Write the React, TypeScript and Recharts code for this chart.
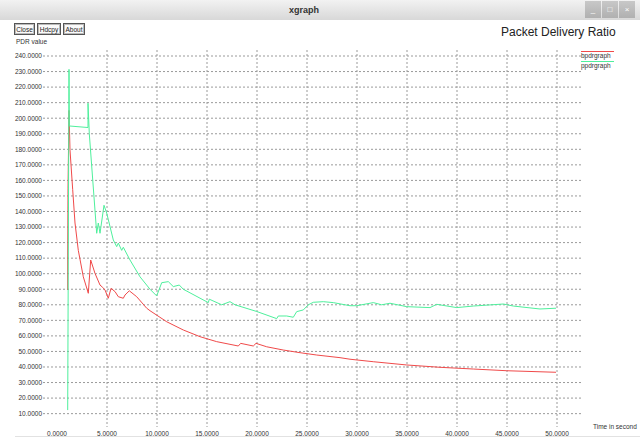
import { LineChart, Line, XAxis, YAxis, CartesianGrid } from "recharts";

// time (s) / PDR readings
const bpdrTime = [
  1.07, 1.07, 1.1, 1.2, 1.3, 1.57, 1.8, 2.13, 2.63, 3.13, 3.37, 3.8, 4.3, 4.57,
  4.8, 5.13, 5.4, 5.8, 6.13, 6.63, 6.8, 7.23, 7.97, 8.97, 9.3, 10.97, 12.63,
  14.3, 15.97, 18.13, 18.37, 19.63, 19.9, 20.97, 22.63, 24.3, 25.97, 28.3,
  29.3, 31.63, 34.97, 38.3, 41.63, 44.97, 49.9,
];
const bpdrValue = [
  89.5, 112, 155, 205, 179.5, 154, 132.6, 115, 98, 87.4, 108.8, 100.2, 92.7,
  91.2, 89.5, 84.2, 90.6, 88.5, 85.2, 84.2, 86.3, 89, 85.2, 77.8, 76.2, 69.1,
  63.8, 59.5, 56.3, 53.5, 55.2, 53.5, 55.2, 53, 50.9, 49.2, 47.7, 46, 45, 43.4,
  41.3, 39.8, 38.7, 37.6, 36.6,
];

const ppdrTime = [
  1.07, 1.2, 1.23, 3.1, 3.1, 3.23, 3.97, 4.13, 4.3, 4.7, 4.97, 5.63, 5.97,
  6.13, 6.47, 6.63, 7.3, 8.3, 9.3, 9.97, 10.47, 11.13, 11.63, 12.23, 12.63,
  15.13, 15.23, 16.47, 17.3, 17.8, 19.97, 21.97, 22.13, 22.97, 23.63, 23.97,
  24.63, 25.13, 25.63, 26.63, 27.63, 29.3, 29.97, 31.63, 32.47, 33.3, 34.97,
  37.3, 37.97, 39.97, 41.63, 44.63, 45.63, 48.3, 49.9,
];
const ppdrValue = [
  12.3, 231.4, 195, 194, 209.6, 190, 126, 132.6, 126, 144, 139, 121.7, 117.4,
  119.7, 115, 117, 108.8, 98, 90, 85.7, 94.2, 94.9, 91.7, 92.7, 90, 81.4, 83.6,
  80, 82, 80, 75.7, 71.1, 72.8, 72.8, 72, 75.6, 76.7, 80, 81.6, 82, 81.4, 79.4,
  79.4, 81.4, 80, 81, 78.8, 78.2, 80.3, 78.2, 79.2, 80.5, 79.2, 77.3, 77.8,
];

const xTicks = [0, 5, 10, 15, 20, 25, 30, 35, 40, 45, 50];
const xGrid = [5, 10, 15, 20, 25, 30, 35, 40, 45, 50];
const yTicks = [
  10, 20, 30, 40, 50, 60, 70, 80, 90, 100, 110, 120, 130, 140, 150, 160, 170,
  180, 190, 200, 210, 220, 230, 240,
];

const bpdrData = bpdrTime.map((t, i) => ({ t, v: bpdrValue[i] }));
const ppdrData = ppdrTime.map((t, i) => ({ t, v: ppdrValue[i] }));

const FONT = "'Liberation Sans', Arial, sans-serif";
const RED = "#f04a4a";
const GREEN = "#4ef09c";

function XTick({ x, y, payload }: any) {
  return (
    <text x={x} y={y + 8.5} textAnchor="middle" fontSize={6.5} fill="#333" fontFamily={FONT}>
      {Number(payload.value).toFixed(4)}
    </text>
  );
}

function YTick({ x, y, payload }: any) {
  return (
    <text x={x} y={y + 2.3} textAnchor="end" fontSize={6.5} fill="#333" fontFamily={FONT}>
      {Number(payload.value).toFixed(4)}
    </text>
  );
}

function Button({ left, width, label }: { left: number; width: number; label: string }) {
  return (
    <div
      style={{
        position: "absolute",
        left,
        top: 23,
        width,
        height: 12,
        border: "1px solid #555",
        boxShadow: "inset 0 0 0 1px #bbb",
        background: "#fafafa",
        fontSize: 6.5,
        lineHeight: "12px",
        textAlign: "center",
        color: "#222",
        boxSizing: "border-box",
      }}
    >
      {label}
    </div>
  );
}

export default function App() {
  return (
    <div
      style={{
        position: "fixed",
        left: 0,
        top: 0,
        width: 640,
        height: 438,
        background: "#fff",
        overflow: "hidden",
        fontFamily: FONT,
      }}
    >
      {/* window title bar */}
      <div
        style={{
          position: "absolute",
          left: 0,
          top: 0,
          width: 640,
          height: 20,
          background: "linear-gradient(#f2f2f2, #d8d8d8)",
        }}
      />
      <div
        style={{
          position: "absolute",
          left: 274,
          top: 5,
          width: 60,
          textAlign: "center",
          fontSize: 9,
          fontWeight: "bold",
          color: "#333",
        }}
      >
        xgraph
      </div>
      {["_", "\u25A1", "\u00D7"].map((g, i) => (
        <div
          key={g}
          style={{
            position: "absolute",
            left: 585 + i * 17,
            top: 1,
            width: 16,
            height: 17,
            background: "linear-gradient(#c8c8c8, #b0b0b0)",
            color: "#fff",
            fontSize: 8,
            lineHeight: "17px",
            textAlign: "center",
          }}
        >
          {g}
        </div>
      ))}

      <Button left={14} width={21} label="Close" />
      <Button left={37} width={24} label="Hdcpy" />
      <Button left={63} width={22} label="About" />

      <div style={{ position: "absolute", left: 16, top: 38, fontSize: 6.5, color: "#333" }}>
        PDR value
      </div>
      <div
        style={{ position: "absolute", left: 501, top: 25, fontSize: 12, color: "#222", whiteSpace: "nowrap" }}
      >
        Packet Delivery Ratio
      </div>
      <div
        style={{ position: "absolute", left: 593, top: 423, fontSize: 6.5, color: "#333", whiteSpace: "nowrap" }}
      >
        Time in second
      </div>

      {/* legend */}
      <div style={{ position: "absolute", left: 581, top: 51, width: 33, height: 1, background: RED }} />
      <div style={{ position: "absolute", left: 581, top: 52, fontSize: 6.5, color: "#333" }}>bpdrgraph</div>
      <div style={{ position: "absolute", left: 581, top: 61, width: 33, height: 1, background: GREEN }} />
      <div style={{ position: "absolute", left: 581, top: 62, fontSize: 6.5, color: "#333" }}>ppdrgraph</div>

      <div style={{ position: "absolute", left: 15, top: 436, width: 625, height: 1, background: "#e2e2e2" }} />

      <div style={{ position: "absolute", left: 0, top: 0 }}>
        <LineChart width={640} height={438} margin={{ top: 50, right: 58, bottom: 0, left: 0 }}>
          <CartesianGrid
            stroke="#9a9a9a"
            strokeDasharray="2 2"
            horizontalValues={yTicks}
            verticalValues={xGrid}
          />
          <XAxis
            dataKey="t"
            type="number"
            domain={[-1.4, 52.5]}
            ticks={xTicks}
            interval={0}
            allowDataOverflow
            height={11}
            tickSize={0}
            tickMargin={0}
            axisLine={false}
            tickLine={false}
            tick={<XTick />}
          />
          <YAxis
            type="number"
            domain={[1.41, 243.86]}
            ticks={yTicks}
            interval={0}
            allowDataOverflow
            width={43}
            tickSize={0}
            tickMargin={1}
            axisLine={false}
            tickLine={false}
            tick={<YTick />}
          />
          <Line
            data={bpdrData}
            dataKey="v"
            type="linear"
            stroke={RED}
            strokeWidth={1}
            dot={false}
            isAnimationActive={false}
          />
          <Line
            data={ppdrData}
            dataKey="v"
            type="linear"
            stroke={GREEN}
            strokeWidth={1}
            dot={false}
            isAnimationActive={false}
          />
        </LineChart>
      </div>
    </div>
  );
}
